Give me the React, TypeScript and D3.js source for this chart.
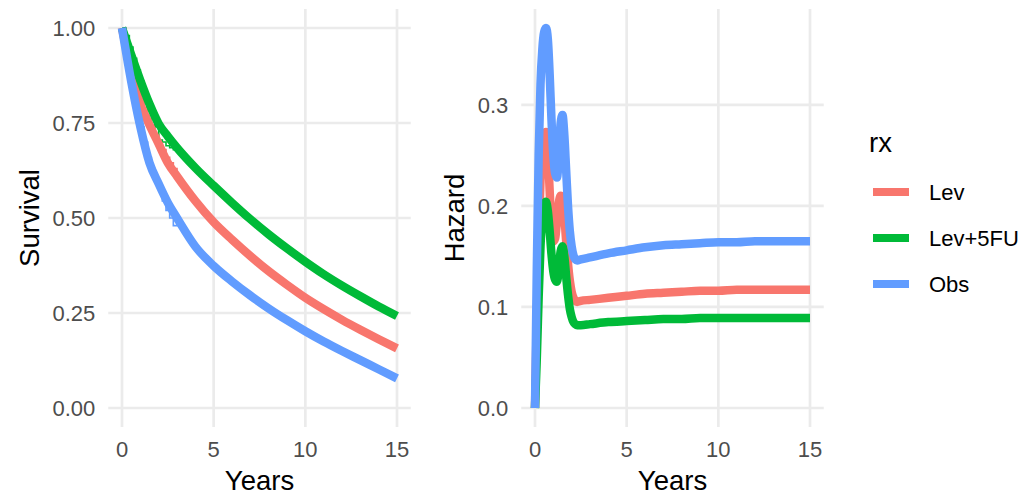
import React from "react";
import * as d3 from "d3";

// groups and colours (ggplot defaults)
const groups = ["Lev", "Lev+5FU", "Obs"];
const colors = ["#F8766D", "#00BA38", "#619CFF"];

// fitted survival curves
const survTimes = [0, 0.5, 1, 1.5, 2, 2.5, 3, 4, 5, 6, 7, 8, 9, 10, 11, 12, 13, 14, 15];
const survLev = [1, 0.89, 0.8, 0.745, 0.695, 0.645, 0.61, 0.545, 0.489, 0.443, 0.4, 0.36, 0.324, 0.29, 0.26, 0.232, 0.206, 0.181, 0.157];
const survLev5FU = [1, 0.93, 0.862, 0.8, 0.748, 0.715, 0.685, 0.632, 0.585, 0.54, 0.497, 0.457, 0.42, 0.385, 0.352, 0.322, 0.294, 0.267, 0.242];
const survObs = [1, 0.86, 0.74, 0.645, 0.59, 0.54, 0.5, 0.425, 0.374, 0.333, 0.296, 0.262, 0.231, 0.202, 0.175, 0.15, 0.126, 0.102, 0.078];

// kaplan-meier steps (early years, the rest sits under the fitted lines)
const kmTimes = [0, 0.2, 0.4, 0.6, 0.8, 1.0, 1.2, 1.4, 1.6, 1.8, 2.0, 2.2, 2.4, 2.6, 2.8, 3.0];
const kmLev = [1, 0.95, 0.9, 0.86, 0.83, 0.81, 0.79, 0.77, 0.745, 0.72, 0.7, 0.68, 0.66, 0.645, 0.63, 0.615];
const kmLev5FU = [1, 0.98, 0.95, 0.92, 0.89, 0.86, 0.83, 0.8, 0.785, 0.74, 0.705, 0.7, 0.69, 0.685, 0.68, 0.685];
const kmObs = [1, 0.92, 0.86, 0.81, 0.77, 0.74, 0.7, 0.66, 0.63, 0.6, 0.575, 0.545, 0.52, 0.5, 0.48, 0.49];

// hazard curves
const hazTimes = [0, 0.1, 0.2, 0.3, 0.4, 0.5, 0.6, 0.7, 0.8, 0.9, 1.0, 1.1, 1.2, 1.3, 1.4, 1.5, 1.6, 1.7, 1.8, 1.9, 2.0, 2.1, 2.2, 2.3, 2.5, 3, 4, 5, 6, 7, 8, 9, 10, 11, 12, 13, 14, 15];
const hazLev = [0, 0.09, 0.17, 0.225, 0.258, 0.271, 0.273, 0.255, 0.215, 0.18, 0.165, 0.168, 0.185, 0.203, 0.21, 0.208, 0.19, 0.165, 0.143, 0.126, 0.115, 0.109, 0.106, 0.105, 0.106, 0.107, 0.109, 0.111, 0.113, 0.114, 0.115, 0.116, 0.116, 0.117, 0.117, 0.117, 0.117, 0.117];
const hazLev5FU = [0, 0.05, 0.11, 0.16, 0.19, 0.202, 0.204, 0.195, 0.175, 0.152, 0.135, 0.127, 0.125, 0.138, 0.155, 0.16, 0.15, 0.13, 0.112, 0.098, 0.09, 0.085, 0.083, 0.082, 0.082, 0.083, 0.085, 0.086, 0.087, 0.088, 0.088, 0.089, 0.089, 0.089, 0.089, 0.089, 0.089, 0.089];
const hazObs = [0, 0.14, 0.25, 0.32, 0.355, 0.372, 0.376, 0.365, 0.33, 0.285, 0.25, 0.232, 0.228, 0.25, 0.282, 0.29, 0.27, 0.235, 0.2, 0.175, 0.16, 0.151, 0.147, 0.146, 0.147, 0.149, 0.153, 0.156, 0.159, 0.161, 0.162, 0.163, 0.164, 0.164, 0.165, 0.165, 0.165, 0.165];

const xTicks = [0, 5, 10, 15];
const survTicks = [0, 0.25, 0.5, 0.75, 1];
const hazTicks = [0, 0.1, 0.2, 0.3];

const font = "'Liberation Sans', Arial, sans-serif";
const grid = "#EBEBEB";
const tickColor = "#4D4D4D";
const lw = 8.5;

function Panel({ left, right, top, bottom, yScale, yTicks, yFmt, yTitle, titleX, children }: any) {
  const x = d3.scaleLinear().domain([-0.75, 15.75]).range([left, right]);
  return (
    <g>
      {yTicks.map((t: number) => (
        <g key={"y" + t}>
          <line x1={left} x2={right} y1={yScale(t)} y2={yScale(t)} stroke={grid} strokeWidth={2.7} />
          <text x={left - 13} y={yScale(t) + 8} textAnchor="end" fontSize={22} fill={tickColor}>
            {yFmt(t)}
          </text>
        </g>
      ))}
      {xTicks.map((t) => (
        <g key={"x" + t}>
          <line x1={x(t)} x2={x(t)} y1={top} y2={bottom} stroke={grid} strokeWidth={2.7} />
          <text x={x(t)} y={457} textAnchor="middle" fontSize={22} fill={tickColor}>
            {t}
          </text>
        </g>
      ))}
      {children(x)}
      <text x={(left + right) / 2} y={490} textAnchor="middle" fontSize={27.5} fill="#000">
        Years
      </text>
      <text
        transform={`translate(${titleX},${(top + bottom) / 2}) rotate(-90)`}
        textAnchor="middle"
        fontSize={27.5}
        fill="#000"
      >
        {yTitle}
      </text>
    </g>
  );
}

export default function App() {
  const top = 9;
  const bottom = 427;

  const survY = d3.scaleLinear().domain([-0.05, 1.05]).range([bottom, top]);
  const hazMax = d3.max([...hazLev, ...hazLev5FU, ...hazObs]) as number;
  const hazY = d3.scaleLinear().domain([-hazMax * 0.05, hazMax * 1.05]).range([bottom, top]);

  const survSeries = [survLev, survLev5FU, survObs];
  const kmSeries = [kmLev, kmLev5FU, kmObs];
  const hazSeries = [hazLev, hazLev5FU, hazObs];

  return (
    <svg
      width={1030}
      height={496}
      style={{ position: "absolute", left: 0, top: 0, background: "#fff", fontFamily: font }}
    >
      <Panel
        left={108.25}
        right={410.75}
        top={top}
        bottom={bottom}
        yScale={survY}
        yTicks={survTicks}
        yFmt={d3.format(".2f")}
        yTitle="Survival"
        titleX={39}
      >
        {(x: any) => {
          const km = d3.line<number>().x((_, i) => x(kmTimes[i])).y((d) => survY(d)).curve(d3.curveStepAfter);
          const fit = d3.line<number>().x((_, i) => x(survTimes[i])).y((d) => survY(d)).curve(d3.curveMonotoneX);
          return (
            <g>
              {kmSeries.map((s, i) => (
                <path key={"km" + i} d={km(s) || ""} fill="none" stroke={colors[i]} strokeWidth={1.6} />
              ))}
              {survSeries.map((s, i) => (
                <path key={"fit" + i} d={fit(s) || ""} fill="none" stroke={colors[i]} strokeWidth={lw} strokeLinejoin="round" />
              ))}
            </g>
          );
        }}
      </Panel>
      <Panel
        left={521.25}
        right={823.75}
        top={top}
        bottom={bottom}
        yScale={hazY}
        yTicks={hazTicks}
        yFmt={d3.format(".1f")}
        yTitle="Hazard"
        titleX={464}
      >
        {(x: any) => {
          const line = d3.line<number>().x((_, i) => x(hazTimes[i])).y((d) => hazY(d)).curve(d3.curveMonotoneX);
          return (
            <g>
              {hazSeries.map((s, i) => (
                <path key={"h" + i} d={line(s) || ""} fill="none" stroke={colors[i]} strokeWidth={lw} strokeLinejoin="round" />
              ))}
            </g>
          );
        }}
      </Panel>
      <g>
        <text x={869} y={152} fontSize={27.5} fill="#000">
          rx
        </text>
        {groups.map((g, i) => (
          <g key={g}>
            <line x1={873} x2={909} y1={192 + i * 46} y2={192 + i * 46} stroke={colors[i]} strokeWidth={8} />
            <text x={929} y={200 + i * 46} fontSize={22} fill="#000">
              {g}
            </text>
          </g>
        ))}
      </g>
    </svg>
  );
}
